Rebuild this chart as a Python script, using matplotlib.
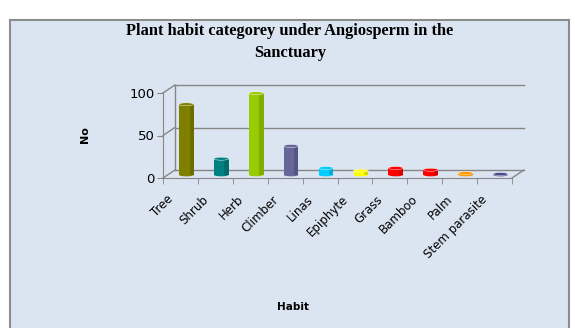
import matplotlib.pyplot as plt
import matplotlib.patches as patches
import matplotlib.transforms as mtransforms
import numpy as np

categories = ["Tree", "Shrub", "Herb", "Climber", "Linas", "Epiphyte",
              "Grass", "Bamboo", "Palm", "Stem parasite"]
values = [83, 19, 96, 34, 8, 5, 8, 6, 2, 1]
colors = ["#7f7f00", "#008080", "#99cc00", "#666699", "#00ccff", "#ffff00",
          "#ff0000", "#ff0000", "#ff9900", "#4b4b8a"]
y_ticks = [0, 50, 100]

W, H = 575, 328
fig = plt.figure(figsize=(W / 100, H / 100), dpi=100)
fig.patch.set_facecolor("white")

# chart area box (behind the axes)
fig.patches.append(patches.Rectangle((10 / W, -0.02), 559 / W, 308 / H + 0.02,
                                     transform=fig.transFigure,
                                     facecolor="#dbe5f1", edgecolor="#8c8c8c",
                                     linewidth=1.5, zorder=-5))

ax = fig.add_axes([163 / W, 150 / H, 349 / W, 85 / H])
ax.set_facecolor("none")
n = len(categories)
ax.set_xlim(0, n)
ax.set_ylim(0, 100)

# depth of the pseudo-3d box, in data units
dx, dy = 0.34, 9.4
grid_c = "#868686"

# back wall gridlines and depth diagonals
for t in y_ticks:
    ax.plot([dx, n + dx], [t + dy, t + dy], color=grid_c, lw=1, clip_on=False)
    ax.plot([0, dx], [t, t + dy], color=grid_c, lw=1, clip_on=False)
ax.plot([dx, dx], [dy, 100 + dy], color=grid_c, lw=1, clip_on=False)
ax.plot([n, n + dx], [0, dy], color=grid_c, lw=1, clip_on=False)

# cylinders
xs = np.arange(n) + 0.5 + dx / 2
bw = 0.42
base = dy / 2 - 1
for x, v, c in zip(xs, values, colors):
    ax.add_patch(patches.Rectangle((x - bw / 2, base), bw, v, facecolor=c,
                                   edgecolor="none", clip_on=False, zorder=3))
    ax.add_patch(patches.Rectangle((x + bw / 2 - 0.12, base), 0.12, v,
                                   facecolor="black", alpha=0.15,
                                   edgecolor="none", clip_on=False, zorder=4))
    ax.add_patch(patches.Ellipse((x, base), bw, 3.5, facecolor=c,
                                 edgecolor="none", clip_on=False, zorder=2))
    ax.add_patch(patches.Ellipse((x, base + v), bw, 3.5, facecolor=c,
                                 edgecolor="white", lw=0.3,
                                 clip_on=False, zorder=5))

for s in ["top", "right"]:
    ax.spines[s].set_visible(False)
for s in ["left", "bottom"]:
    ax.spines[s].set_color(grid_c)

ax.set_yticks(y_ticks)
ax.tick_params(axis="y", length=4, color=grid_c, labelsize=9.5, pad=2)
ax.set_xticks(np.arange(n) + 0.5)
ax.set_xticklabels(categories, rotation=45, ha="right", va="center",
                   rotation_mode="anchor", fontsize=8.5)
ax.set_xticks(np.arange(n + 1), minor=True)
ax.tick_params(axis="x", which="major", length=0, pad=14)
ax.tick_params(axis="x", which="minor", length=4, color=grid_c)
shift = mtransforms.ScaledTranslation(-9 / 100, 0, fig.dpi_scale_trans)
for lab in ax.get_xticklabels():
    lab.set_transform(lab.get_transform() + shift)

fig.text(85 / W, 1 - 135 / H, "No", rotation=90, ha="center", va="center",
         fontsize=8, fontweight="bold")
fig.text(293 / W, 1 - 307 / H, "Habit", ha="center", va="center",
         fontsize=7.5, fontweight="bold")
fig.text(290 / W, 1 - 42 / H,
         "Plant habit categorey under Angiosperm in the\nSanctuary",
         ha="center", va="center", fontsize=11.8, fontweight="bold",
         family="Liberation Serif", linespacing=1.5)

plt.savefig("out.png", dpi=100)
